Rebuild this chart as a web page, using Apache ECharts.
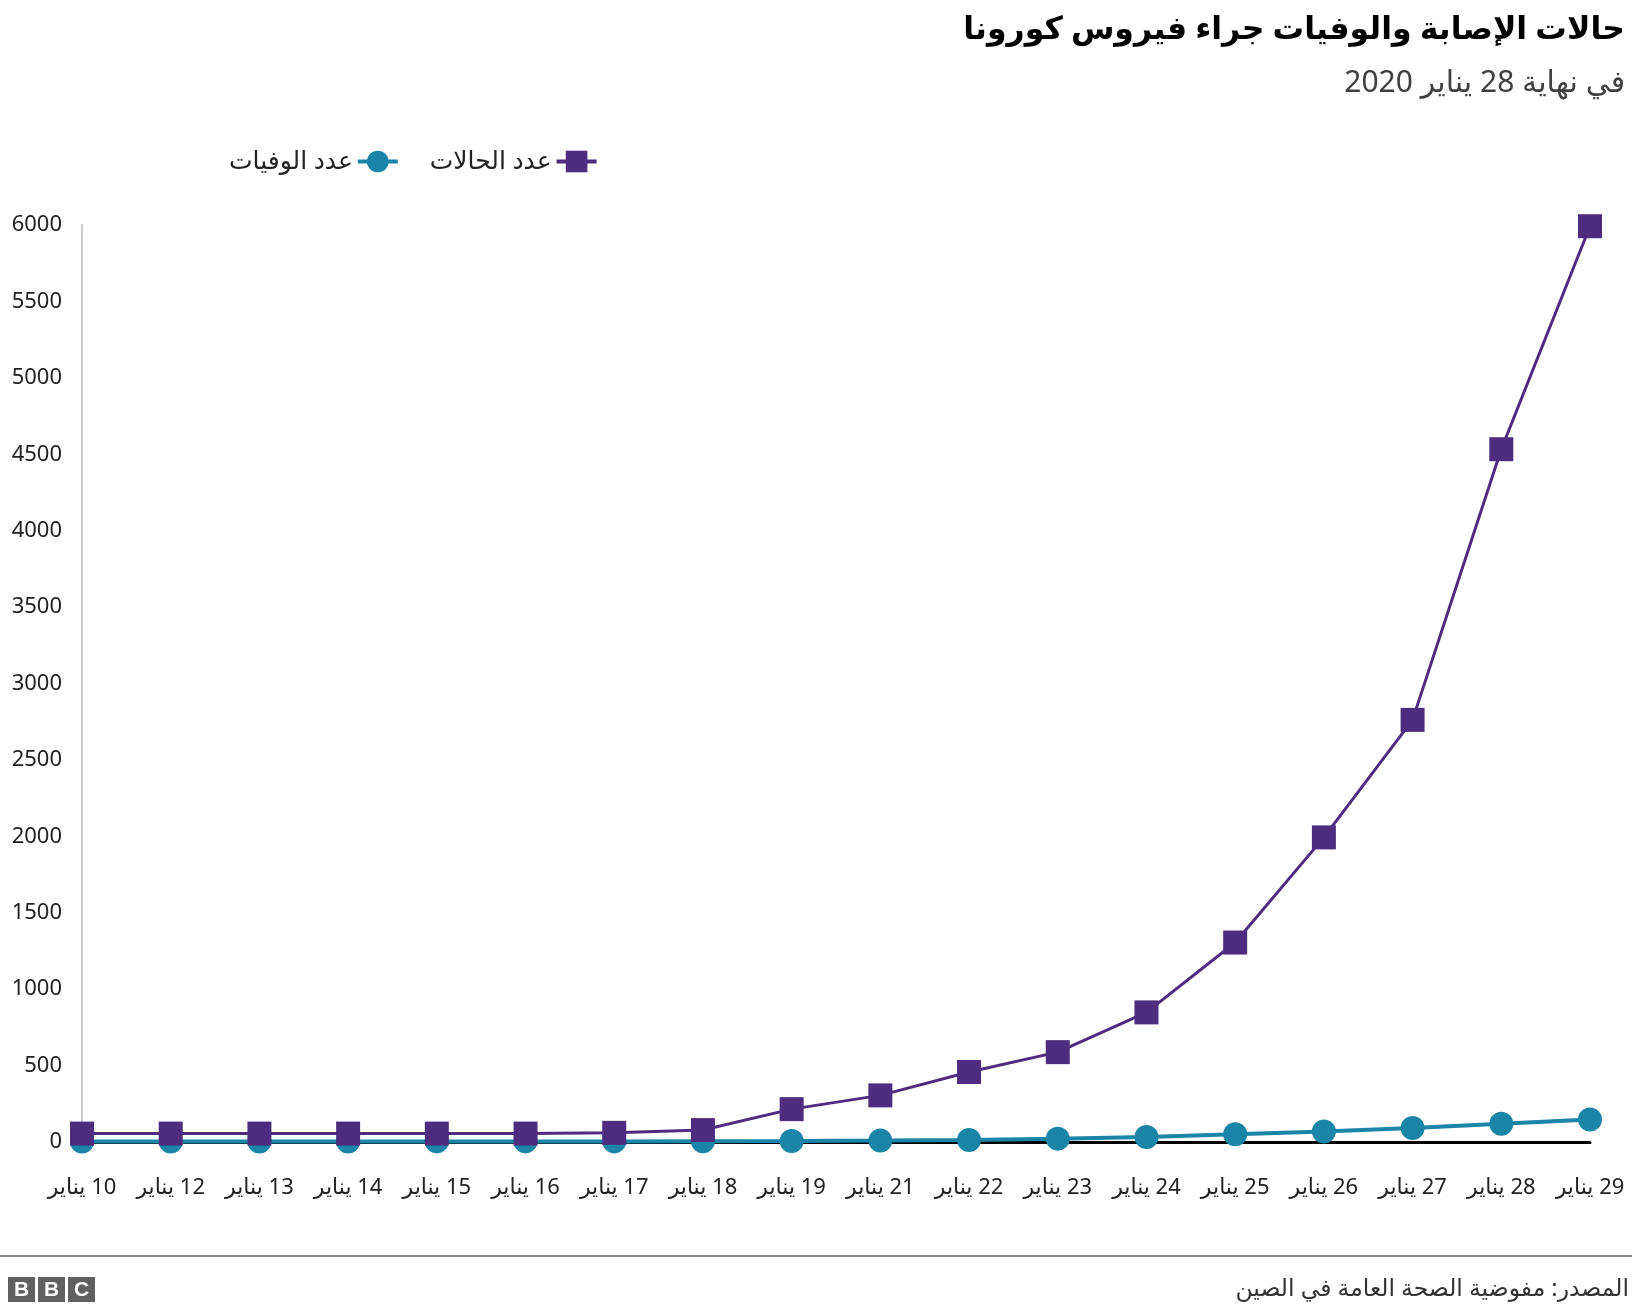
<!DOCTYPE html>
<html>
<head>
<meta charset="utf-8">
<script src="https://cdn.jsdelivr.net/npm/echarts@6/dist/echarts.min.js"></script>
<style>
  html, body { margin: 0; padding: 0; background: #fff; }
  #main { width: 1632px; height: 1314px; direction: rtl; }
</style>
</head>
<body>
<div id="main"></div>
<script>
// dates on the x axis
const days = ['10 يناير', '12 يناير', '13 يناير', '14 يناير', '15 يناير', '16 يناير',
  '17 يناير', '18 يناير', '19 يناير', '21 يناير', '22 يناير', '23 يناير',
  '24 يناير', '25 يناير', '26 يناير', '27 يناير', '28 يناير', '29 يناير']
// عدد الحالات
const cases = [55, 55, 55, 55, 55, 55, 60, 78, 215, 305, 458, 588, 848, 1305, 1993, 2762, 4533, 5992]
// عدد الوفيات
const deaths = [3, 3, 3, 3, 4, 4, 4, 5, 6, 9, 13, 22, 32, 50, 68, 92, 120, 147]

const font = "'Noto Sans', 'DejaVu Sans', sans-serif"
const purple = '#4E2C7F'
const teal = '#1A85A6'

var myChart = echarts.init(document.getElementById('main'))
myChart.setOption({
  animation: false,
  textStyle: { fontFamily: font },
  title: [
    {
      text: 'حالات الإصابة والوفيات جراء فيروس كورونا',
      right: 2,
      top: 9,
      textStyle: { fontSize: 31.5, fontWeight: 'bold', color: '#000', fontFamily: font }
    },
    {
      text: 'في نهاية 28 يناير 2020',
      right: 2,
      top: 63,
      textStyle: { fontSize: 30, fontWeight: 'normal', color: '#404040', fontFamily: font }
    }
  ],
  legend: {
    data: ['عدد الوفيات', 'عدد الحالات'],
    left: 224,
    top: 144,
    align: 'right',
    itemWidth: 40,
    itemHeight: 27,
    itemGap: 30,
    lineStyle: { width: 4 },
    textStyle: { fontSize: 25, color: '#222', fontFamily: font }
  },
  grid: { left: 82, right: 42, top: 225, bottom: 172, containLabel: false },
  xAxis: {
    type: 'category',
    data: days,
    boundaryGap: false,
    axisLine: { lineStyle: { color: '#000', width: 3 } },
    axisTick: { show: false },
    axisLabel: { interval: 0, hideOverlap: false, fontSize: 22, color: '#222', margin: 35, fontFamily: font }
  },
  yAxis: {
    type: 'value',
    min: 0,
    max: 6000,
    interval: 500,
    axisLine: { show: true, lineStyle: { color: '#ccc', width: 2 } },
    axisTick: { show: false },
    splitLine: { show: false },
    axisLabel: { fontSize: 22, color: '#222', margin: 20, fontFamily: font, formatter: function (v) { return String(v) } }
  },
  series: [
    {
      name: 'عدد الوفيات',
      type: 'line',
      data: deaths,
      symbol: 'circle',
      symbolSize: 24,
      itemStyle: { color: teal },
      lineStyle: { color: teal, width: 4 }
    },
    {
      name: 'عدد الحالات',
      type: 'line',
      data: cases,
      symbol: 'rect',
      symbolSize: 24,
      itemStyle: { color: purple },
      lineStyle: { color: purple, width: 3 }
    }
  ],
  graphic: [
    { type: 'line', shape: { x1: 0, y1: 1256, x2: 1632, y2: 1256 }, style: { stroke: '#888', lineWidth: 2 } },
    {
      type: 'text', x: 1629, y: 1289,
      style: { text: 'المصدر: مفوضية الصحة العامة في الصين', align: 'right', verticalAlign: 'middle',
        font: "23.5px 'Noto Sans', 'DejaVu Sans', sans-serif", fill: '#333' }
    },
    { type: 'rect', shape: { x: 8, y: 1277, width: 27, height: 25 }, style: { fill: '#606060' } },
    { type: 'rect', shape: { x: 38, y: 1277, width: 27, height: 25 }, style: { fill: '#606060' } },
    { type: 'rect', shape: { x: 68, y: 1277, width: 27, height: 25 }, style: { fill: '#606060' } },
    { type: 'text', x: 21.5, y: 1290, style: { text: 'B', align: 'center', verticalAlign: 'middle', font: "bold 21px 'Liberation Sans', sans-serif", fill: '#fff' } },
    { type: 'text', x: 51.5, y: 1290, style: { text: 'B', align: 'center', verticalAlign: 'middle', font: "bold 21px 'Liberation Sans', sans-serif", fill: '#fff' } },
    { type: 'text', x: 81.5, y: 1290, style: { text: 'C', align: 'center', verticalAlign: 'middle', font: "bold 21px 'Liberation Sans', sans-serif", fill: '#fff' } }
  ]
})
</script>
</body>
</html>
